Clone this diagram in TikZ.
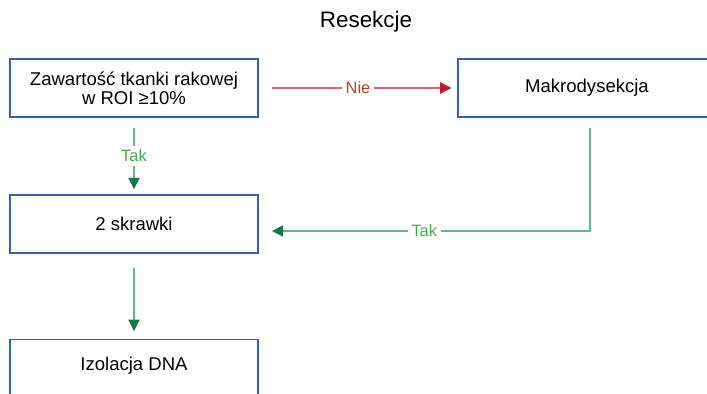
\documentclass[tikz,border=0pt]{standalone}
\usepackage{fontspec}
\setmainfont{Liberation Sans}
\usetikzlibrary{arrows, arrows.meta}

\definecolor{boxblue}{HTML}{3563A8}
\definecolor{nieline}{HTML}{DB6670}
\definecolor{niehead}{HTML}{C21A30}
\definecolor{nietext}{HTML}{B4441C}
\definecolor{takline}{HTML}{62B48F}
\definecolor{takhead}{HTML}{16784B}
\definecolor{taktext}{HTML}{46A84C}

\tikzset{
  box/.style={draw=boxblue, line width=0.8pt, minimum width=186pt, minimum height=43.5pt,
    align=center, inner sep=2pt, font=\fontsize{13.9}{14.5}\selectfont},
  nie/.style={nieline, line width=0.9pt, -{Triangle[length=8.5pt,width=8.5pt,color=niehead]}},
  tak/.style={takline, line width=0.9pt, -{Triangle[length=8.5pt,width=8.5pt,color=takhead]}},
  lab/.style={fill=white, inner sep=3pt, font=\fontsize{12.3}{13}\selectfont}
}

\begin{document}
\begin{tikzpicture}[x=0.75pt, y=-0.75pt]
\useasboundingbox (0,0) rectangle (707,393);
\clip (0,0) rectangle (707,393);

\node[font=\fontsize{16.8}{18}\selectfont] (titel) at (366,22) {Resekcje};

\node[box] (zaw) at (134,88) {Zawartość tkanki rakowej\\ w ROI ≥10\%};
\node[box, minimum width=193.5pt] (makro) at (587,88) {Makrodysekcja};
\node[box] (skr) at (134,224) {2 skrawki};
\node[box, anchor=north, inner ysep=3.25pt, text height=20pt, text depth=25pt] (izol) at (134,339) {Izolacja DNA};

\draw[nie, shorten <=10pt, shorten >=4.5pt] (zaw.east) -- node[lab, text=nietext] {Nie} (makro.west);
\draw[tak, shorten <=7.5pt, shorten >=4pt] (zaw.south) -- node[lab, text=taktext] {Tak} (skr.north);
\draw[tak, shorten <=7.5pt, shorten >=10pt] ([xshift=2.25pt]makro.south) |- node[lab, text=taktext, pos=0.75] {Tak} ([yshift=-5.25pt]skr.east);
\draw[tak, shorten <=11pt, shorten >=6pt] (skr.south) -- (izol.north);
\end{tikzpicture}
\end{document}
